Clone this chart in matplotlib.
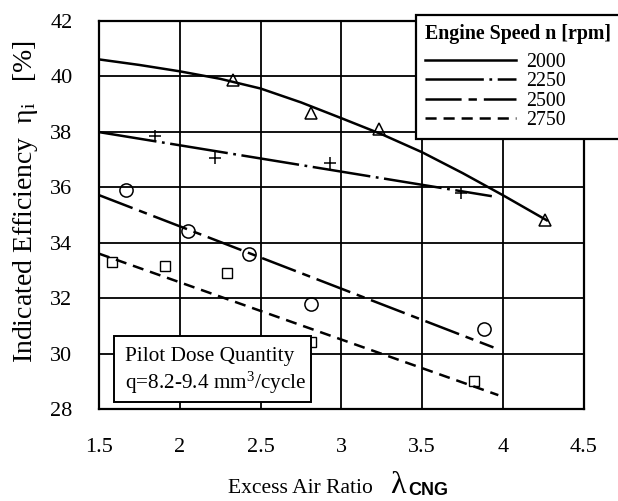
import matplotlib
matplotlib.use("Agg")
import matplotlib.pyplot as plt
from matplotlib.lines import Line2D
from matplotlib.patches import Rectangle

plt.rcParams['font.family'] = ['Liberation Serif', 'DejaVu Serif']
plt.rcParams['mathtext.fontset'] = 'custom'
plt.rcParams['mathtext.rm'] = 'Liberation Serif'
plt.rcParams['mathtext.it'] = 'Liberation Serif:italic'
plt.rcParams['mathtext.bf'] = 'Liberation Sans:bold'
plt.rcParams['mathtext.sf'] = 'Liberation Sans'
plt.rcParams['lines.scale_dashes'] = False

# ---- data ----
speeds = ["2000", "2250", "2500", "2750"]

# measured points
x2000 = [2.33, 2.81, 3.23, 4.26]
y2000 = [39.85, 38.65, 38.1, 34.8]
x2250 = [1.85, 2.22, 2.93, 3.74]
y2250 = [37.85, 37.05, 36.85, 35.8]
x2500 = [1.67, 2.05, 2.43, 2.81, 3.88]
y2500 = [35.9, 34.42, 33.6, 31.8, 30.9]
x2750 = [1.58, 1.91, 2.29, 2.81, 3.82]
y2750 = [33.3, 33.15, 32.9, 30.4, 29.0]

# trend lines
fx2000 = [1.5, 1.75, 2.0, 2.25, 2.5, 2.75, 3.0, 3.25, 3.5, 3.75, 4.0, 4.27]
fy2000 = [40.6, 40.4, 40.17, 39.9, 39.55, 39.05, 38.48, 37.9, 37.25, 36.5, 35.7, 34.8]
fx2250 = [1.5, 3.93]
fy2250 = [37.98, 35.67]
fx2500 = [1.5, 3.94]
fy2500 = [35.71, 30.22]
fx2750 = [1.5, 3.97]
fy2750 = [33.6, 28.5]

xticks = [1.5, 2, 2.5, 3, 3.5, 4, 4.5]
xticklabels = ["1.5", "2", "2.5", "3", "3.5", "4", "4.5"]
yticks = [28, 30, 32, 34, 36, 38, 40, 42]

fig = plt.figure(figsize=(6.18, 5.01), dpi=100)
ax = fig.add_axes([0.160, 0.1836, 0.785, 0.7754])

styles = {
    "2000": dict(linestyle='-'),
    "2250": dict(dashes=(42, 4, 2, 4)),
    "2500": dict(dashes=(26, 5, 6, 5)),
    "2750": dict(dashes=(8, 5)),
}
lw = 1.8
ax.plot(fx2000, fy2000, color='k', lw=lw, **styles["2000"])
ax.plot(fx2250, fy2250, color='k', lw=lw, **styles["2250"])
ax.plot(fx2500, fy2500, color='k', lw=lw, **styles["2500"])
ax.plot(fx2750, fy2750, color='k', lw=lw, **styles["2750"])

ax.plot(x2000, y2000, ls='none', marker='^', ms=8, mfc='none', mec='k', mew=1.1)
ax.plot(x2250, y2250, ls='none', marker='+', ms=9, mec='k', mew=1.1)
ax.plot(x2500, y2500, ls='none', marker='o', ms=9.5, mfc='none', mec='k', mew=1.1)
ax.plot(x2750, y2750, ls='none', marker='s', ms=7, mfc='none', mec='k', mew=1.0)

ax.set_xlim(1.5, 4.5)
ax.set_ylim(28, 42)
ax.set_xticks(xticks)
ax.set_xticklabels(xticklabels)
ax.set_yticks(yticks)
ax.grid(True, color='k', lw=1.3)
ax.set_axisbelow(True)
for s in ax.spines.values():
    s.set_linewidth(1.6)
ax.tick_params(length=0, labelsize=16)
ax.tick_params(axis='x', pad=21)
ax.tick_params(axis='y', pad=19)

ax.set_ylabel("Indicated Efficiency  η$_{\\rm i}$   [%]", fontsize=20)
ax.yaxis.set_label_coords(-0.121, 0.535)

# x label built from pieces (large lambda, bold sans subscript)
fig.text(228 / 618, 1 - 493 / 501, "Excess Air Ratio", fontsize=15.5,
         ha='left', va='baseline')
fig.text(390 / 618, 1 - 493 / 501, "λ", fontsize=23, ha='left', va='baseline')
fig.text(408 / 618, 1 - 495 / 501, "CNG", fontsize=13, ha='left', va='baseline',
         family='Liberation Sans', weight='bold')

# annotation box
rect = Rectangle((1.593, 28.25), 1.216, 2.38, facecolor='white', edgecolor='k',
                 lw=1.4, zorder=5)
ax.add_patch(rect)
ax.text(1.66, 29.9, "Pilot Dose Quantity", fontsize=15.3, va='center', ha='left', zorder=6)
ax.text(1.66, 28.93, r"q=8.2-9.4 mm$^3$/cycle", fontsize=15.3, va='center', ha='left', zorder=6)

# legend
handles = [Line2D([], [], color='k', lw=lw, **styles[s]) for s in speeds]
leg = fig.legend(handles, speeds, loc='upper left',
                 bbox_to_anchor=(416 / 618, 1 - 15 / 501),
                 bbox_transform=fig.transFigure,
                 title="Engine Speed n [rpm]",
                 title_fontproperties={'weight': 'bold', 'size': 14.3},
                 fontsize=14.3, frameon=True, fancybox=False, edgecolor='k',
                 framealpha=1, handlelength=4.6, handletextpad=0.5,
                 labelspacing=0.02, borderpad=0.45, borderaxespad=0, alignment='left')
leg._legend_box.sep = 6.5
leg.get_frame().set_linewidth(1.6)

fig.savefig("out.png", dpi=100)
